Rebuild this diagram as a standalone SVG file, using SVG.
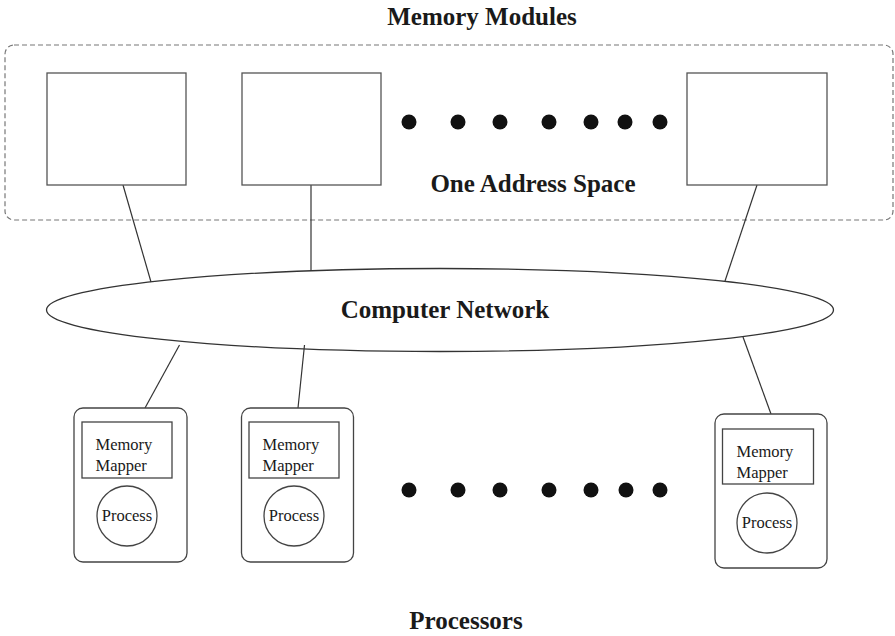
<svg xmlns="http://www.w3.org/2000/svg" width="895" height="636" viewBox="0 0 895 636">
<style>
  .title { font-family: "Liberation Serif", "Times New Roman", serif; font-weight: bold; font-size: 25px; fill: #1a1a1a; text-anchor: middle; }
  .lbl { font-family: "Liberation Serif", "Times New Roman", serif; font-size: 16.5px; fill: #1a1a1a; }
  .box { fill: #fff; stroke: #555; stroke-width: 1.3; }
  .proc { fill: #fff; stroke: #444; stroke-width: 1.3; }
  .conn { stroke: #333; stroke-width: 1.2; fill: none; }
  .dot { fill: #111; }
  .container { fill: none; stroke: #777; stroke-width: 1.2; stroke-dasharray: 5 3; }
</style>
<rect width="895" height="636" fill="#fff"/>

<text class="title" x="482" y="25">Memory Modules</text>

<g id="address-space">
  <rect class="container" x="5" y="45" width="888" height="175" rx="9"/>
  <text class="title" x="533" y="192">One Address Space</text>
</g>

<g id="connectors">
  <line class="conn" x1="123" y1="185" x2="151" y2="282"/>
  <line class="conn" x1="311" y1="185" x2="311" y2="271"/>
  <line class="conn" x1="757" y1="185" x2="725" y2="281"/>
  <line class="conn" x1="179.5" y1="345" x2="145" y2="408"/>
  <line class="conn" x1="304.5" y1="345" x2="298" y2="408"/>
  <line class="conn" x1="743" y1="337" x2="771" y2="414"/>
  <line class="conn" x1="130" y1="478" x2="130" y2="486"/>
  <line class="conn" x1="296" y1="478" x2="296" y2="486"/>
  <line class="conn" x1="771" y1="484" x2="771" y2="493"/>
</g>

<g id="mem1"><rect class="box" x="47" y="73" width="139" height="112"/></g>
<g id="mem2"><rect class="box" x="242" y="73" width="139" height="112"/></g>
<g id="mem3"><rect class="box" x="687" y="73" width="140" height="112"/></g>

<g id="mem-dots">
  <circle class="dot" cx="409" cy="122" r="7.5"/>
  <circle class="dot" cx="458" cy="122" r="7.5"/>
  <circle class="dot" cx="500" cy="122" r="7.5"/>
  <circle class="dot" cx="549" cy="122" r="7.5"/>
  <circle class="dot" cx="591" cy="122" r="7.5"/>
  <circle class="dot" cx="625" cy="122" r="7.5"/>
  <circle class="dot" cx="660" cy="122" r="7.5"/>
</g>

<g id="network">
  <ellipse cx="440" cy="310" rx="393.5" ry="41.5" fill="none" stroke="#333" stroke-width="1.3"/>
  <text class="title" x="445" y="318">Computer Network</text>
</g>

<g id="proc1">
  <rect class="proc" x="74" y="408" width="113" height="154" rx="9"/>
  <rect class="proc" x="82" y="422" width="90" height="56"/>
  <text class="lbl" x="95.5" y="450">Memory</text>
  <text class="lbl" x="95.5" y="471">Mapper</text>
  <circle class="proc" cx="127" cy="516" r="30"/>
  <text class="lbl" x="127" y="521" text-anchor="middle">Process</text>
</g>

<g id="proc2">
  <rect class="proc" x="241.5" y="408" width="112" height="154" rx="9"/>
  <rect class="proc" x="249" y="422" width="90" height="56"/>
  <text class="lbl" x="262.5" y="450">Memory</text>
  <text class="lbl" x="262.5" y="471">Mapper</text>
  <circle class="proc" cx="294" cy="516" r="30"/>
  <text class="lbl" x="294" y="521" text-anchor="middle">Process</text>
</g>

<g id="proc3">
  <rect class="proc" x="715" y="414" width="112" height="154" rx="9"/>
  <rect class="proc" x="722.5" y="429" width="91" height="55"/>
  <text class="lbl" x="736.5" y="456.5">Memory</text>
  <text class="lbl" x="736.5" y="477.5">Mapper</text>
  <circle class="proc" cx="767" cy="523" r="30"/>
  <text class="lbl" x="767" y="528" text-anchor="middle">Process</text>
</g>

<g id="proc-dots">
  <circle class="dot" cx="409" cy="490" r="7.5"/>
  <circle class="dot" cx="458" cy="490" r="7.5"/>
  <circle class="dot" cx="500" cy="490" r="7.5"/>
  <circle class="dot" cx="549" cy="490" r="7.5"/>
  <circle class="dot" cx="591" cy="490" r="7.5"/>
  <circle class="dot" cx="626" cy="490" r="7.5"/>
  <circle class="dot" cx="660" cy="490" r="7.5"/>
</g>

<text class="title" x="466" y="629">Processors</text>
</svg>
